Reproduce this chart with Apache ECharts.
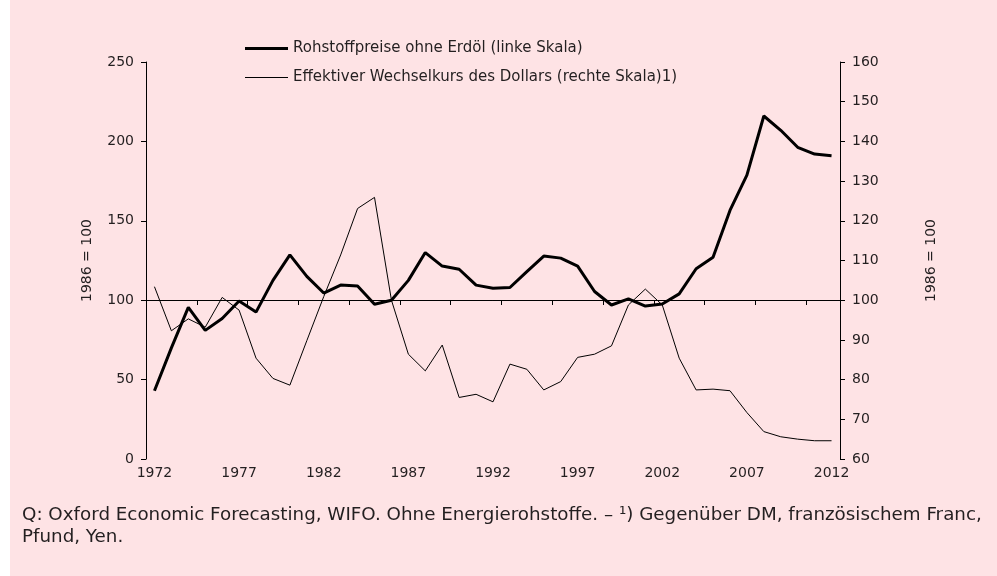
<!DOCTYPE html>
<html style="height: 100%" lang="de">
<head>
    <meta charset="utf-8">
    <script type="text/javascript" src="https://cdn.jsdelivr.net/npm/echarts@6/dist/echarts.min.js"></script>
</head>
<body style="height: 100%; margin: 0; background: #fff">
<div id="container" style="width: 997px; height: 576px; background: linear-gradient(to right, #ffffff 10px, #fee3e5 10px)"></div>
<script type="text/javascript">
    // Jahre (Kategorien)
    var years = ['1972', '1973', '1974', '1975', '1976', '1977', '1978', '1979', '1980', '1981',
        '1982', '1983', '1984', '1985', '1986', '1987', '1988', '1989', '1990', '1991',
        '1992', '1993', '1994', '1995', '1996', '1997', '1998', '1999', '2000', '2001',
        '2002', '2003', '2004', '2005', '2006', '2007', '2008', '2009', '2010', '2011', '2012'];

    // Rohstoffpreise ohne Erdöl, 1986 = 100 (linke Skala)
    var rohstoffpreise = [43, 70, 95.5, 81, 88.5, 99.5, 92.5, 112.5, 128.5, 115,
        104.5, 109.5, 109, 97.5, 100, 112.5, 130, 121.5, 119.5, 109.5,
        107.5, 108, 118, 127.8, 126.5, 121.5, 105.5, 97, 100.8, 96.3,
        97.6, 104, 119.8, 127, 156.5, 178.8, 216, 207, 196.3, 192, 191];

    // Effektiver Wechselkurs des Dollars, 1986 = 100 (rechte Skala)
    var wechselkurs = [103.4, 92.3, 95.3, 93.2, 100.7, 97.5, 85.4, 80.3, 78.6, 89.8,
        100.9, 111.4, 123.1, 125.9, 100, 86.4, 82.2, 88.7, 75.5, 76.3,
        74.4, 83.9, 82.6, 77.4, 79.5, 85.6, 86.4, 88.5, 98.8, 102.8,
        98.8, 85.4, 77.4, 77.6, 77.2, 71.7, 66.9, 65.6, 65.0, 64.6, 64.6];

    var nameRohstoff = 'Rohstoffpreise ohne Erdöl (linke Skala)';
    var nameKurs = 'Effektiver Wechselkurs des Dollars (rechte Skala)1)';

    var font = 'DejaVu Sans';
    var textColor = '#231f20';

    var dom = document.getElementById("container");
    var myChart = echarts.init(dom, null, {renderer: 'canvas'});

    var option = {
        backgroundColor: 'transparent',
        animation: false,
        textStyle: {fontFamily: font, color: textColor},
        grid: {left: 146, right: 157, top: 62, bottom: 117, containLabel: false},
        legend: [{
            data: [nameRohstoff],
            left: 245,
            top: 41,
            padding: 0,
            icon: 'rect',
            itemWidth: 43,
            itemHeight: 3,
            textStyle: {fontFamily: font, fontSize: 15, color: textColor}
        }, {
            data: [nameKurs],
            left: 245,
            top: 70,
            padding: 0,
            icon: 'rect',
            itemWidth: 43,
            itemHeight: 1,
            textStyle: {fontFamily: font, fontSize: 15, color: textColor}
        }],
        xAxis: [{
            // nur Beschriftung unten
            type: 'category',
            data: years,
            boundaryGap: true,
            position: 'bottom',
            axisLine: {show: false},
            axisTick: {show: false},
            axisLabel: {interval: 4, margin: 7, fontFamily: font, fontSize: 14, color: textColor}
        }, {
            // Linie bei 100 mit Teilstrichen
            type: 'category',
            data: years,
            boundaryGap: true,
            position: 'bottom',
            offset: -159,
            axisLine: {show: true, lineStyle: {color: '#000', width: 1}},
            axisTick: {show: true, length: 5, lineStyle: {color: '#000', width: 1}},
            axisLabel: {show: false}
        }],
        yAxis: [{
            type: 'value',
            min: 0,
            max: 250,
            interval: 50,
            position: 'left',
            name: '1986 = 100',
            nameLocation: 'middle',
            nameGap: 52,
            nameTextStyle: {fontFamily: font, fontSize: 14, color: textColor},
            axisLine: {show: true, lineStyle: {color: '#000', width: 1}},
            axisTick: {show: true, length: 5, lineStyle: {color: '#000'}},
            axisLabel: {margin: 12, fontFamily: font, fontSize: 14, color: textColor},
            splitLine: {show: false}
        }, {
            type: 'value',
            min: 60,
            max: 160,
            interval: 10,
            position: 'right',
            name: '1986 = 100',
            nameLocation: 'middle',
            nameGap: 84,
            nameTextStyle: {fontFamily: font, fontSize: 14, color: textColor},
            axisLine: {show: true, lineStyle: {color: '#000', width: 1}},
            axisTick: {show: true, length: 5, lineStyle: {color: '#000'}},
            axisLabel: {margin: 12, fontFamily: font, fontSize: 14, color: textColor},
            splitLine: {show: false}
        }],
        series: [{
            name: nameKurs,
            type: 'line',
            yAxisIndex: 1,
            data: wechselkurs,
            symbol: 'none',
            itemStyle: {color: '#000'},
            lineStyle: {color: '#000', width: 1}
        }, {
            name: nameRohstoff,
            type: 'line',
            yAxisIndex: 0,
            data: rohstoffpreise,
            symbol: 'none',
            itemStyle: {color: '#000'},
            lineStyle: {color: '#000', width: 3},
            z: 3
        }],
        graphic: [{
            type: 'text',
            left: 22,
            top: 504,
            style: {
                text: 'Q: Oxford Economic Forecasting, WIFO. Ohne Energierohstoffe. – \u00b9) Gegenüber DM, französischem Franc,\nPfund, Yen.',
                fontFamily: font,
                fontSize: 18.3,
                lineHeight: 22,
                fill: textColor
            }
        }]
    };

    myChart.setOption(option);
</script>
</body>
</html>
